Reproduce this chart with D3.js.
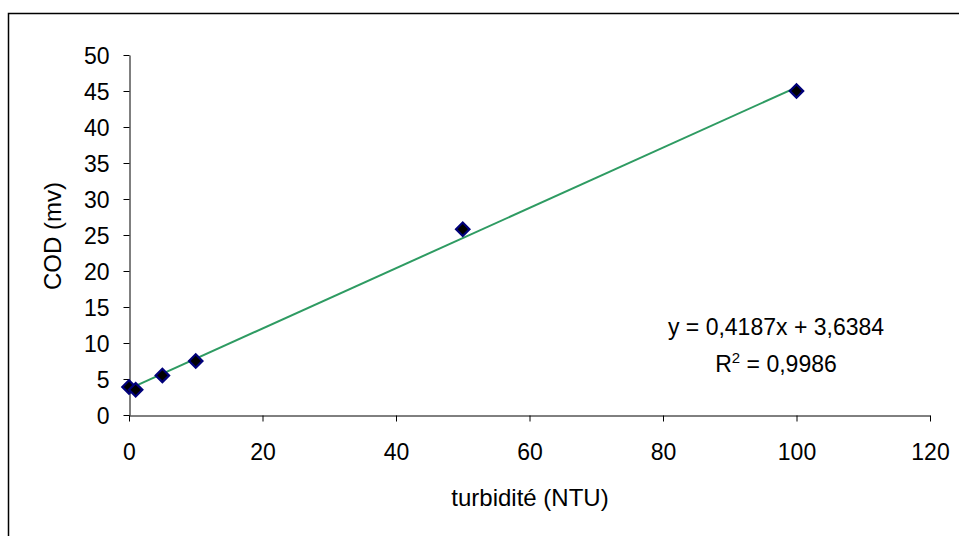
<!DOCTYPE html>
<html>
<head>
<meta charset="utf-8">
<script src="https://cdn.jsdelivr.net/npm/d3@7"></script>
<style>
  html, body { margin: 0; padding: 0; background: #fff; }
  svg { display: block; font-family: "Liberation Sans", Arial, sans-serif; }
</style>
</head>
<body>
<svg id="chart" width="959" height="536"></svg>
<script>
// Calibration data: turbidity (NTU) vs. COD signal (mV)
const turbidity = [0, 1, 5, 10, 50, 100];
const cod = [3.9, 3.5, 5.5, 7.5, 25.8, 45];
const xTicks = [0, 20, 40, 60, 80, 100, 120];
const yTicks = [0, 5, 10, 15, 20, 25, 30, 35, 40, 45, 50];
const slope = 0.4187;
const intercept = 3.6384;
const eqLabel = "y = 0,4187x + 3,6384";
const r2Value = "0,9986";

const svg = d3.select("#chart");

// outer chart frame
svg.append("rect")
  .attr("x", 8.5).attr("y", 13.5)
  .attr("width", 1000).attr("height", 600)
  .attr("fill", "#fff").attr("stroke", "#000").attr("stroke-width", 1.5);

const x = d3.scaleLinear().domain([0, 120]).range([129, 930]);
const y = d3.scaleLinear().domain([0, 50]).range([415, 55]);

const fmt = d => String(d);

// y axis
const yAxis = svg.append("g")
  .attr("transform", "translate(129.5,0)")
  .call(d3.axisLeft(y).tickValues(yTicks).tickSize(6).tickSizeOuter(0).tickPadding(14).tickFormat(fmt));
// x axis
const xAxis = svg.append("g")
  .attr("transform", "translate(0,415.5)")
  .call(d3.axisBottom(x).tickValues(xTicks).tickSize(6).tickSizeOuter(0).tickPadding(22).tickFormat(fmt));

[yAxis, xAxis].forEach(g => {
  g.attr("font-family", null);
  g.select(".domain").attr("stroke", "#000").attr("stroke-width", 1);
  g.selectAll(".tick line").attr("stroke", "#000").attr("stroke-width", 1);
  g.selectAll(".tick text").attr("fill", "#000").style("font-size", "23px");
});
yAxis.selectAll(".tick text").attr("dy", "0.35em");

// trend line from the fitted equation
const fitX = [0, 100];
svg.append("line")
  .attr("x1", x(fitX[0])).attr("y1", y(slope * fitX[0] + intercept))
  .attr("x2", x(fitX[1])).attr("y2", y(slope * fitX[1] + intercept))
  .attr("stroke", "#2e9b62").attr("stroke-width", 2);

// diamond markers
svg.append("g").selectAll("path")
  .data(turbidity.map((t, i) => [t, cod[i]]))
  .join("path")
  .attr("d", d3.symbol().type(d3.symbolSquare).size(90))
  .attr("transform", d => `translate(${x(d[0])},${y(d[1])}) rotate(45)`)
  .attr("fill", "#000")
  .attr("stroke", "#00007a").attr("stroke-width", 2.2);

// regression annotation
const ann = svg.append("g").style("font-size", "23px").attr("fill", "#000");
ann.append("text").attr("x", 776).attr("y", 335).attr("text-anchor", "middle").text(eqLabel);
const r2 = ann.append("text").attr("x", 776).attr("y", 372).attr("text-anchor", "middle");
r2.append("tspan").text("R");
r2.append("tspan").attr("dy", -9).style("font-size", "15px").text("2");
r2.append("tspan").attr("dy", 9).text(" = " + r2Value);

// axis titles
svg.append("text")
  .attr("transform", "translate(61,236) rotate(-90)")
  .attr("text-anchor", "middle").style("font-size", "24px").attr("fill", "#000")
  .text("COD (mv)");
svg.append("text")
  .attr("x", 530).attr("y", 506)
  .attr("text-anchor", "middle").style("font-size", "24px").attr("fill", "#000")
  .text("turbidité (NTU)");
</script>
</body>
</html>
